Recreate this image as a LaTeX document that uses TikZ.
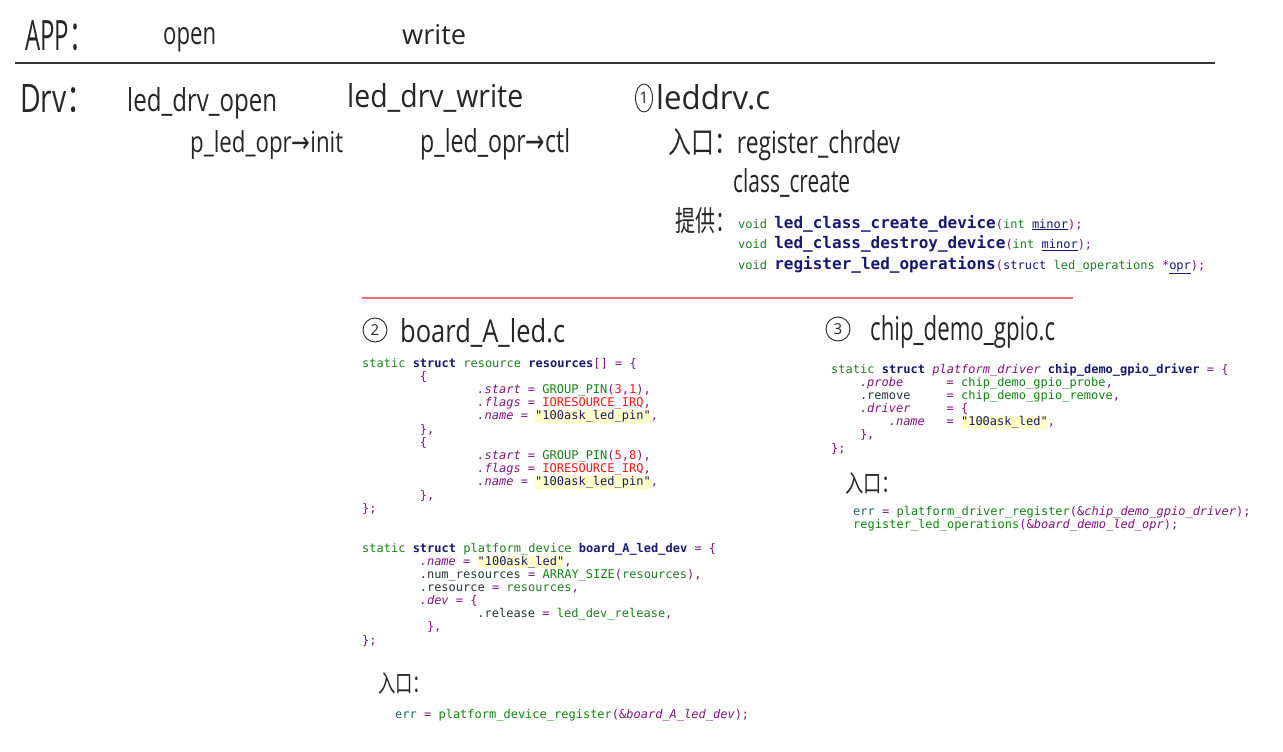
\documentclass[tikz,border=0pt]{standalone}
\usepackage{fontspec}
\usepackage{graphicx}
\usetikzlibrary{shapes.geometric}
\newfontfamily\codefont{DejaVu Sans Mono}
\newfontfamily\hand{Open Sans}
\newfontfamily\cjk{Noto Sans CJK SC}
\newfontfamily\dvs{DejaVu Sans}
\definecolor{cgreen}{RGB}{30,128,30}
\definecolor{cfn}{RGB}{20,130,20}
\definecolor{cnavy}{RGB}{24,24,112}
\definecolor{cpurple}{RGB}{128,20,128}
\definecolor{cred}{RGB}{250,20,20}
\definecolor{cteal}{RGB}{30,105,115}
\definecolor{cdark}{RGB}{35,55,55}
\definecolor{chl}{RGB}{255,255,200}
\definecolor{redline}{RGB}{240,110,110}
\newcommand\cgr[1]{\textcolor{cgreen}{#1}}
\newcommand\cfb[1]{\textcolor{cfn}{#1}}
\newcommand\cnv[1]{\textcolor{cnavy}{#1}}
\newcommand\cnb[1]{\textcolor{cnavy}{\bfseries #1}}
\newcommand\cpu[1]{\textcolor{cpurple}{#1}}
\newcommand\cit[1]{\textcolor{cpurple}{\itshape #1}}
\newcommand\crd[1]{\textcolor{cred}{#1}}
\newcommand\ctl[1]{\textcolor{cteal}{#1}}
\newcommand\cdk[1]{\textcolor{cdark}{#1}}
\newcommand\hlt[1]{{\setlength\fboxsep{0pt}\colorbox{chl}{\rule[-3pt]{0pt}{12.5pt}\cnv{#1}}}}
\newcommand\unv[1]{\textcolor{cnavy}{\underline{#1}}}
\newcommand\bigfn[1]{{\fontsize{16}{16}\selectfont\bfseries\color{cnavy}#1}}
% handwritten text: width #1, height above baseline #2
\newcommand\hw[3]{\resizebox{#1pt}{#2pt}{\fontsize{24}{28}\selectfont\hand #3}}
\tikzset{
  code/.style={anchor=base west, inner sep=0pt, font=\codefont\fontsize{12}{13}\selectfont},
  hwt/.style={anchor=base west, inner sep=0pt, text=black!85},
  numcirc/.style={draw=black!85, circle, line width=0.9pt, minimum size=24pt, inner sep=0pt, text=black!85, font=\hand\fontsize{15}{15}\selectfont},
}
\begin{document}
\begin{tikzpicture}[x=1pt,y=-1pt]
\useasboundingbox[fill=white] (0,0) rectangle (1283,752);

% ---------- top: APP / Drv ----------
\node[hwt] (app) at (25,50) {\hw{68}{30}{APP\cjk：}};
\node[hwt] (open) at (163,45) {\hw{53}{17}{open}};
\node[hwt] (write) at (402,45) {\hw{64}{20}{write}};
\coordinate (sepL) at (15,63);
\coordinate (sepR) at (1215,63);
\draw[black!80, line width=1.1pt] (sepL) -- (sepR);

\node[hwt] (drv) at (20,113) {\hw{75}{28}{Drv\cjk：}};
\node[hwt] (drvopen) at (127,112) {\hw{150}{24}{led\_drv\_open}};
\node[hwt] (drvwrite) at (347,107) {\hw{176}{24}{led\_drv\_write}};
\node[hwt] (oprinit) at (190,152) {\hw{153}{22}{p\_led\_opr{\dvs →}init}};
\node[hwt] (oprctl) at (420,152) {\hw{150}{24}{p\_led\_opr{\dvs →}ctl}};

% ---------- (1) leddrv.c ----------
\node[draw=black!85, ellipse, minimum width=17pt, minimum height=28pt, inner sep=0pt, line width=0.9pt, text=black!85, font=\hand\fontsize{16}{16}\selectfont] (c1) at (644,98) {1};
\node[hwt] (leddrv) at (656,110) {\hw{114}{25}{leddrv.c}};
\node[hwt] (entry1) at (668,153) {\hw{232}{25}{{\cjk 入口：}register\_chrdev}};
\node[hwt] (classc) at (733,192) {\hw{117}{24}{class\_create}};
\node[hwt] (provide) at (675,231) {\hw{60}{24}{\cjk 提供：}};

\node[code] (v1) at (738,228) {\cgr{void} \bigfn{led\_class\_create\_device}\cpu{(}\cgr{int} \unv{minor}\cpu{);}};
\node[code] (v2) at (738,248.5) {\cgr{void} \bigfn{led\_class\_destroy\_device}\cpu{(}\cgr{int} \unv{minor}\cpu{);}};
\node[code] (v3) at (738,269) {\cgr{void} \bigfn{register\_led\_operations}\cpu{(}\cnv{struct} \cgr{led\_operations} \cpu{*}\unv{opr}\cpu{);}};

\coordinate (redL) at (362,298);
\coordinate (redR) at (1073,298);
\draw[redline, line width=1.1pt] (redL) -- (redR);

% ---------- (2) board_A_led.c ----------
\node[numcirc] (c2) at (375,330) {2};
\node[hwt] (boardt) at (400,342) {\hw{165}{24}{board\_A\_led.c}};

\node[code] (b0) at (362,367) {\cgr{static} \cnb{struct} \cgr{resource} \cnb{resources}\cpu{[] = \{}};
\node[code] (b1) at (419.6,380.2) {\cpu{\{}};
\node[code] (b2) at (477.2,393.4) {\cit{.start} \cpu{=} \cfb{GROUP\_PIN}\cpu{(}\crd{3}\cpu{,}\crd{1}\cpu{),}};
\node[code] (b3) at (477.2,406.6) {\cit{.flags} \cpu{=} \crd{IORESOURCE\_IRQ}\cpu{,}};
\node[code] (b4) at (477.2,419.8) {\cit{.name} \cpu{=} \hlt{"100ask\_led\_pin"}\cpu{,}};
\node[code] (b5) at (419.6,433) {\cpu{\},}};
\node[code] (b6) at (419.6,446.2) {\cpu{\{}};
\node[code] (b7) at (477.2,459.4) {\cit{.start} \cpu{=} \cfb{GROUP\_PIN}\cpu{(}\crd{5}\cpu{,}\crd{8}\cpu{),}};
\node[code] (b8) at (477.2,472.6) {\cit{.flags} \cpu{=} \crd{IORESOURCE\_IRQ}\cpu{,}};
\node[code] (b9) at (477.2,485.8) {\cit{.name} \cpu{=} \hlt{"100ask\_led\_pin"}\cpu{,}};
\node[code] (b10) at (419.6,499) {\cpu{\},}};
\node[code] (b11) at (362,512.2) {\cpu{\};}};

\node[code] (d0) at (362,552) {\cgr{static} \cnb{struct} \cgr{platform\_device} \cnb{board\_A\_led\_dev} \cpu{= \{}};
\node[code] (d1) at (419.6,565.1) {\cit{.name} \cpu{=} \hlt{"100ask\_led"}\cpu{,}};
\node[code] (d2) at (419.6,578.3) {\cdk{.num\_resources} \cpu{=} \cfb{ARRAY\_SIZE}\cpu{(}\cgr{resources}\cpu{),}};
\node[code] (d3) at (419.6,591.4) {\cdk{.resource} \cpu{=} \cgr{resources}\cpu{,}};
\node[code] (d4) at (419.6,604.6) {\cit{.dev} \cpu{= \{}};
\node[code] (d5) at (477.2,617.7) {\cdk{.release} \cpu{=} \cgr{led\_dev\_release}\cpu{,}};
\node[code] (d6) at (426.8,630.8) {\cpu{\},}};
\node[code] (d7) at (362,644) {\cpu{\};}};

\node[hwt] (entry2) at (378,692) {\hw{52}{20}{\cjk 入口：}};
\node[code] (e2) at (395,718) {\ctl{err} \cpu{=} \cfb{platform\_device\_register}\cpu{(\&}\cit{board\_A\_led\_dev}\cpu{);}};

% ---------- (3) chip_demo_gpio.c ----------
\node[numcirc] (c3) at (838,329) {3};
\node[hwt] (chipt) at (870,340) {\hw{185}{25}{chip\_demo\_gpio.c}};

\node[code] (p0) at (831,373) {\cgr{static} \cnb{struct} \cit{platform\_driver} \cnb{chip\_demo\_gpio\_driver} \cpu{= \{}};
\node[code] (p1) at (859.8,386.2) {\cit{.probe}~~~~~~\cpu{=} \cfb{chip\_demo\_gpio\_probe}\cpu{,}};
\node[code] (p2) at (859.8,399.3) {\cdk{.remove}~~~~~\cpu{=} \cfb{chip\_demo\_gpio\_remove}\cpu{,}};
\node[code] (p3) at (859.8,412.5) {\cit{.driver}~~~~~\cpu{= \{}};
\node[code] (p4) at (888.6,425.7) {\cit{.name}~~~\cpu{=} \hlt{"100ask\_led"}\cpu{,}};
\node[code] (p5) at (859.8,438.9) {\cpu{\},}};
\node[code] (p6) at (831,452) {\cpu{\};}};

\node[hwt] (entry3) at (845,492) {\hw{55}{20}{\cjk 入口：}};
\node[code] (e3a) at (853,515) {\ctl{err} \cpu{=} \cfb{platform\_driver\_register}\cpu{(\&}\cit{chip\_demo\_gpio\_driver}\cpu{);}};
\node[code] (e3b) at (853,528) {\cfb{register\_led\_operations}\cpu{(\&}\cit{board\_demo\_led\_opr}\cpu{);}};
\end{tikzpicture}
\end{document}
